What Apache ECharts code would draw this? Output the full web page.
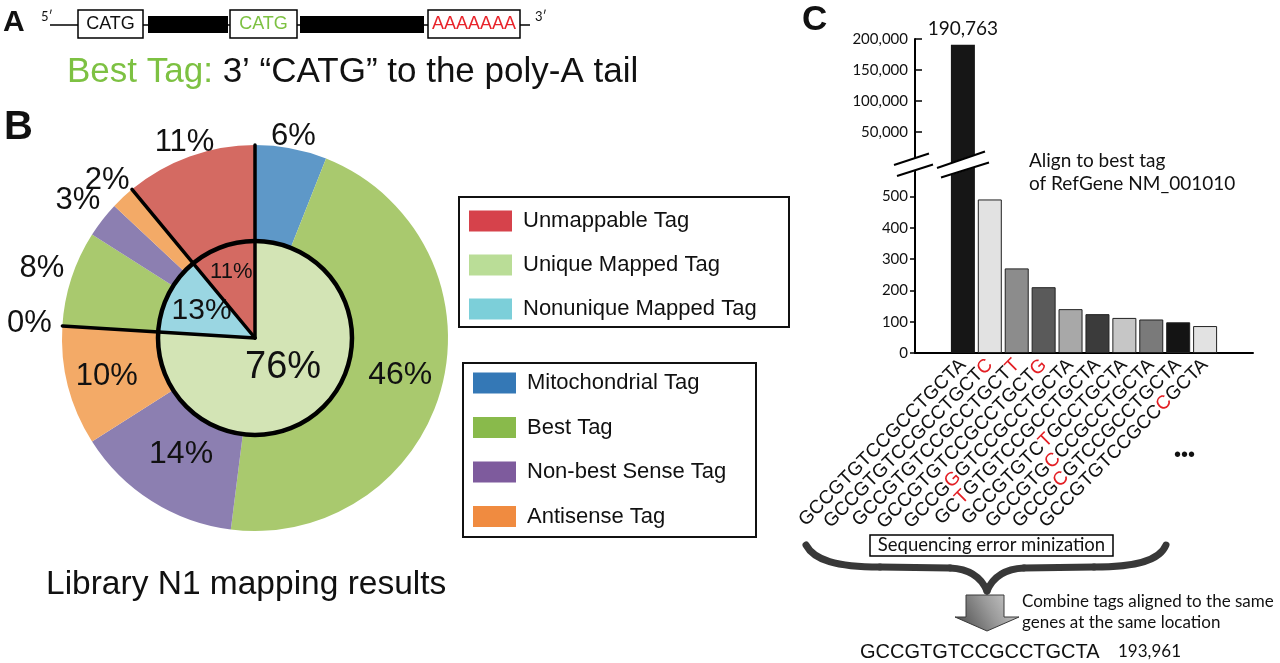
<!DOCTYPE html>
<html><head><meta charset="utf-8">
<script src="https://cdn.jsdelivr.net/npm/echarts@6/dist/echarts.min.js"></script>
<style>html,body{margin:0;padding:0;background:#fff}#c{width:1280px;height:663px}</style>
</head><body><div id="c"></div>
<script>
// ---------- Panel B data ----------
const innerNames = ['Unique Mapped Tag', 'Nonunique Mapped Tag', 'Unmappable Tag'];
const innerValues = [76, 13, 11];
const outerNames = ['Mitochondrial Tag', 'Best Tag', 'Non-best Sense Tag', 'Antisense Tag',
                    'Mitochondrial Tag', 'Best Tag', 'Non-best Sense Tag', 'Antisense Tag', 'Unmappable Tag'];
const outerValues = [6, 46, 14, 10, 0, 8, 3, 2, 11];
const legend1Names = ['Unmappable Tag', 'Unique Mapped Tag', 'Nonunique Mapped Tag'];
const legend2Names = ['Mitochondrial Tag', 'Best Tag', 'Non-best Sense Tag', 'Antisense Tag'];

// ---------- Panel C data ----------
const tagSeqs = ['GCCGTGTCCGCCTGCTA', 'GCCGTGTCCGCCTGCTC', 'GCCGTGTCCGCCTGCTT', 'GCCGTGTCCGCCTGCTG',
                 'GCCGGGTCCGCCTGCTA', 'GCTGTGTCCGCCTGCTA', 'GCCGTGTCTGCCTGCTA', 'GCCGTGCCCGCCTGCTA',
                 'GCCGCGTCCGCCTGCTA', 'GCCGTGTCCGCCCGCTA'];
const tagCounts = [190763, 490, 270, 210, 140, 124, 112, 107, 98, 86];
const upperTicks = [50000, 100000, 150000, 200000];
const lowerTicks = [0, 100, 200, 300, 400, 500];
const combinedSeq = 'GCCGTGTCCGCCTGCTA';
const combinedCount = 193961;

// ---------- styles ----------
const pieColor = {
  'Unmappable Tag': '#d46a62', 'Unique Mapped Tag': '#d3e4b5', 'Nonunique Mapped Tag': '#9ad6e2',
  'Mitochondrial Tag': '#5e98c8', 'Best Tag': '#a9c96e', 'Non-best Sense Tag': '#8c7fb1', 'Antisense Tag': '#f3aa67'
};
const legendColor = {
  'Unmappable Tag': '#d6424b', 'Unique Mapped Tag': '#badd97', 'Nonunique Mapped Tag': '#7ccfd9',
  'Mitochondrial Tag': '#3478b6', 'Best Tag': '#89ba4b', 'Non-best Sense Tag': '#7e5b9d', 'Antisense Tag': '#f08b40'
};
const outerLabelPos = ['outside', 'inside', 'inside', 'inside', 'outside', 'outside', 'outside', 'outside', 'outside'];
const outerLabelR = [205, 150, 138, 153, 226, 224, 224, 216, 208];   // label distance from centre (layout)
const outerLabelSize = [31, 32, 32, 31, 31, 31, 31, 31, 31];
const innerLabelR = [41, 60, 70];
const innerLabelSize = [38, 30, 22];
const barShades = ['#161616', '#e2e2e2', '#8c8c8c', '#5a5a5a', '#a8a8a8', '#3b3b3b', '#c6c6c6', '#7a7a7a', '#141414', '#e2e2e2'];

function hasFont(f) {
  const c = document.createElement('canvas').getContext('2d');
  c.font = '40px monospace'; const a = c.measureText('AAAAAAAmmmiii').width;
  c.font = '40px "' + f + '", monospace'; return c.measureText('AAAAAAAmmmiii').width !== a;
}
const NARROW = hasFont('Liberation Sans Narrow');
const boxFont = NARROW ? { fontFamily: 'Liberation Sans Narrow', fontSize: 21 } : { fontFamily: 'Liberation Sans', fontSize: 18 };
const SANS = 'Liberation Sans, Arial, sans-serif';
const MYR = 'Lato, Open Sans, sans-serif';

const chart = echarts.init(document.getElementById('c'));

// pie geometry
const PCX = 255, PCY = 338, PR = 193, Pr = 97;
function midAngle(vals, i) {
  const total = vals.reduce((a, b) => a + b, 0);
  let s = 0; for (let k = 0; k < i; k++) s += vals[k];
  return (s + vals[i] / 2) / total * Math.PI * 2;
}
function pieLabelLayout(vals, radii) {
  return p => {
    const a = midAngle(vals, p.dataIndex), rr = radii[p.dataIndex];
    return { x: PCX + rr * Math.sin(a), y: PCY - rr * Math.cos(a), align: 'center', verticalAlign: 'middle', hideOverlap: false };
  };
}
const radial = [];
let cum = 0;
[0].concat(innerValues.slice(0, -1)).forEach(v => {
  cum += v;
  const t = cum / 100 * Math.PI * 2;
  radial.push({ type: 'line', z: 50, shape: { x1: PCX, y1: PCY, x2: PCX + PR * Math.sin(t), y2: PCY - PR * Math.cos(t) },
    style: { stroke: '#000', lineWidth: 3.5, lineCap: 'round' } });
});

function seqRich(i) {
  const s = tagSeqs[i], ref = tagSeqs[0];
  let out = '', buf = '';
  for (let k = 0; k < s.length; k++) {
    if (s[k] !== ref[k]) { if (buf) { out += '{n|' + buf + '}'; buf = ''; } out += '{r|' + s[k] + '}'; }
    else buf += s[k];
  }
  if (buf) out += '{n|' + buf + '}';
  return out;
}

const T = (text, x, y, o) => ({ type: 'text', z: 60, style: Object.assign({ text, x, y, fill: '#111', fontFamily: SANS, textVerticalAlign: 'middle' }, o || {}) });
const braceStyle = { fill: 'none', stroke: '#383838', lineWidth: 7, lineCap: 'round' };
const BZ = (x1, y1, cpx1, cpy1, cpx2, cpy2, x2, y2) => ({ type: 'bezierCurve', z: 10, shape: { x1, y1, cpx1, cpy1, cpx2, cpy2, x2, y2 }, style: braceStyle });

const graphics = [
  // Panel A
  T('A', 3, 23, { fontSize: 30, fontWeight: 'bold' }),
  T('5\u2032', 41, 17, { fontSize: 13, fontFamily: MYR }),
  T('3\u2032', 535, 17, { fontSize: 13, fontFamily: MYR }),
  { type: 'line', z: 10, shape: { x1: 50, y1: 25, x2: 530, y2: 25 }, style: { stroke: '#000', lineWidth: 1.5 } },
  { type: 'rect', z: 11, shape: { x: 78, y: 10, width: 65, height: 28 }, style: { fill: '#fff', stroke: '#000', lineWidth: 1.5 } },
  { type: 'rect', z: 11, shape: { x: 148, y: 16, width: 80, height: 17 }, style: { fill: '#000' } },
  { type: 'rect', z: 11, shape: { x: 230, y: 10, width: 67, height: 28 }, style: { fill: '#fff', stroke: '#000', lineWidth: 1.5 } },
  { type: 'rect', z: 11, shape: { x: 300, y: 16, width: 124, height: 17 }, style: { fill: '#000' } },
  { type: 'rect', z: 11, shape: { x: 428, y: 10, width: 92, height: 28 }, style: { fill: '#fff', stroke: '#000', lineWidth: 1.5 } },
  T('CATG', 110.5, 24.5, Object.assign({ textAlign: 'center' }, boxFont)),
  T('CATG', 263.5, 24.5, Object.assign({ textAlign: 'center', fill: '#7dc142' }, boxFont)),
  T('AAAAAAA', 474, 24.5, Object.assign({ textAlign: 'center', fill: '#e8242b' }, boxFont)),
  T('{g|Best Tag:} 3\u2019 \u201CCATG\u201D to the poly-A tail', 67, 72, { fontSize: 35,
    rich: { g: { fill: '#7dc142', fontSize: 35, fontFamily: SANS } } }),
  // Panel B
  T('B', 4, 128, { fontSize: 40, fontWeight: 'bold' }),
  { type: 'circle', z: 50, shape: { cx: PCX, cy: PCY, r: Pr }, style: { fill: 'none', stroke: '#000', lineWidth: 4.5 } },
  ...radial,
  T('Library N1 mapping results', 46, 585, { fontSize: 33.5 }),
  { type: 'rect', z: 10, shape: { x: 459, y: 197, width: 330, height: 130 }, style: { fill: 'none', stroke: '#111', lineWidth: 2 } },
  { type: 'rect', z: 10, shape: { x: 463, y: 363, width: 293, height: 174 }, style: { fill: 'none', stroke: '#111', lineWidth: 2 } },
  // Panel C
  T('C', 802, 20, { fontSize: 35, fontWeight: 'bold' }),
  T('Align to best tag', 1029, 161, { fontSize: 19, fontFamily: MYR }),
  T('of RefGene NM_001010', 1029, 184, { fontSize: 19, fontFamily: MYR }),
  T('\u2022\u2022\u2022', 1174, 455, { fontSize: 20 }),
  // axis break marks
  { type: 'polygon', z: 70, shape: { points: [[893, 165], [929, 153], [933, 165], [897, 177]] }, style: { fill: '#fff' } },
  { type: 'polygon', z: 70, shape: { points: [[936, 168], [985, 151], [989, 163], [941, 178]] }, style: { fill: '#fff' } },
  { type: 'line', z: 71, shape: { x1: 894, y1: 165, x2: 929, y2: 153.5 }, style: { stroke: '#000', lineWidth: 2 } },
  { type: 'line', z: 71, shape: { x1: 897, y1: 176, x2: 933, y2: 164.5 }, style: { stroke: '#000', lineWidth: 2 } },
  { type: 'line', z: 71, shape: { x1: 937, y1: 168, x2: 985, y2: 151.5 }, style: { stroke: '#000', lineWidth: 2 } },
  { type: 'line', z: 71, shape: { x1: 941, y1: 177.5, x2: 989, y2: 162.5 }, style: { stroke: '#000', lineWidth: 2 } },
  // sequencing error box
  { type: 'rect', z: 10, shape: { x: 870, y: 535, width: 243, height: 21 }, style: { fill: '#fff', stroke: '#000', lineWidth: 1.5 } },
  T('Sequencing error minization', 991.5, 545.5, { fontSize: 18.5, fontFamily: MYR, textAlign: 'center' }),
  // brace
  BZ(806, 545, 814, 560, 836, 567, 880, 567),
  { type: 'line', z: 10, shape: { x1: 880, y1: 567, x2: 950, y2: 568 }, style: braceStyle },
  BZ(950, 568, 972, 569, 982, 579, 987, 591),
  BZ(987, 591, 992, 579, 1002, 569, 1024, 568),
  { type: 'line', z: 10, shape: { x1: 1024, y1: 568, x2: 1094, y2: 567 }, style: braceStyle },
  BZ(1094, 567, 1138, 567, 1160, 560, 1166, 545),
  // arrow
  { type: 'polygon', z: 10, shape: { points: [[966, 595], [1004, 595], [1004, 617], [1019, 617], [987, 631], [955, 617], [966, 617]] },
    style: { stroke: '#3a3a3a', lineWidth: 1, fill: { type: 'linear', x: 0, y: 1, x2: 1, y2: 0, colorStops: [
      { offset: 0, color: '#444' }, { offset: 0.55, color: '#9a9a9a' }, { offset: 1, color: '#d4d4d4' }] } } },
  T('Combine tags aligned to the same', 1022, 602, { fontSize: 17, fontFamily: MYR }),
  T('genes at the same location', 1022, 623, { fontSize: 17, fontFamily: MYR }),
  T(combinedSeq, 860, 652, { fontSize: 20 }),
  T(combinedCount.toLocaleString('en-US'), 1118, 652, { fontSize: 17, fontFamily: MYR })
];

const axisCommon = {
  axisLine: { show: true, onZero: false, lineStyle: { color: '#000', width: 2 } },
  splitLine: { show: false },
  axisLabel: { color: '#111', fontFamily: MYR, fontSize: 15, margin: 7 },
  axisTick: { show: true, length: 5, lineStyle: { color: '#000', width: 1.5 } }
};

const option = {
  animation: false,
  backgroundColor: '#fff',
  graphic: graphics,
  legend: [
    { data: legend1Names.map(n => ({ name: n, itemStyle: { color: legendColor[n] } })), orient: 'vertical', left: 469, top: 210,
      padding: 0, itemWidth: 43, itemHeight: 21, itemGap: 22, icon: 'rect', selectedMode: false,
      textStyle: { fontSize: 22, fontFamily: SANS, color: '#111', lineHeight: 22, padding: [0, 0, 0, 6] } },
    { data: legend2Names.map(n => ({ name: n, itemStyle: { color: legendColor[n] } })), orient: 'vertical', left: 473, top: 372,
      padding: 0, itemWidth: 43, itemHeight: 21, itemGap: 22.5, icon: 'rect', selectedMode: false,
      textStyle: { fontSize: 22, fontFamily: SANS, color: '#111', lineHeight: 22, padding: [0, 0, 0, 6] } }
  ],
  grid: [
    { left: 915, top: 165, width: 338, height: 188 },
    { left: 915, top: 39, width: 338, height: 124 }
  ],
  xAxis: [
    Object.assign({}, axisCommon, { type: 'value', gridIndex: 0, min: -1.78, max: 10.78,
      axisTick: { show: false },
      axisLabel: { customValues: tagSeqs.map((s, i) => i), rotate: 45, margin: 9,
        formatter: v => seqRich(Math.round(v)),
        rich: { n: { color: '#111', fontSize: 19, fontFamily: SANS }, r: { color: '#e31e24', fontSize: 19, fontFamily: SANS } } } }),
    { type: 'value', gridIndex: 1, min: -1.78, max: 10.78, show: false, axisLine: { onZero: false } }
  ],
  yAxis: [
    Object.assign({}, axisCommon, { type: 'value', gridIndex: 0, min: 0, max: 600,
      axisTick: Object.assign({}, axisCommon.axisTick, { customValues: lowerTicks }),
      axisLabel: Object.assign({}, axisCommon.axisLabel, { customValues: lowerTicks }) }),
    Object.assign({}, axisCommon, { type: 'value', gridIndex: 1, min: 0, max: 200000,
      axisTick: Object.assign({}, axisCommon.axisTick, { customValues: upperTicks, inside: true, length: 7 }),
      axisLabel: Object.assign({}, axisCommon.axisLabel, { customValues: upperTicks, formatter: v => v.toLocaleString('en-US') }) })
  ],
  series: [
    { type: 'pie', name: 'outer', center: [PCX, PCY], radius: [Pr, PR], startAngle: 90, clockwise: true,
      avoidLabelOverlap: false, emphasis: { disabled: true }, silent: true,
      label: { formatter: '{c}%', fontFamily: SANS, color: '#111' },
      labelLine: { show: false, length: 8, length2: 0 },
      labelLayout: pieLabelLayout(outerValues, outerLabelR),
      data: outerValues.map((v, i) => ({ name: outerNames[i], value: v, itemStyle: { color: pieColor[outerNames[i]] },
        label: { position: outerLabelPos[i], fontSize: outerLabelSize[i] } })) },
    { type: 'pie', name: 'inner', center: [PCX, PCY], radius: [0, Pr], startAngle: 90, clockwise: true,
      avoidLabelOverlap: false, emphasis: { disabled: true }, silent: true,
      label: { position: 'inside', formatter: '{c}%', fontFamily: SANS, color: '#111' },
      labelLayout: pieLabelLayout(innerValues, innerLabelR),
      data: innerValues.map((v, i) => ({ name: innerNames[i], value: v, itemStyle: { color: pieColor[innerNames[i]] },
        label: { fontSize: innerLabelSize[i] } })) },
    { type: 'bar', name: 'lower', xAxisIndex: 0, yAxisIndex: 0, barWidth: 24, clip: true, silent: true,
      data: tagCounts.map((v, i) => ({ value: [i, v], itemStyle: { color: barShades[i], borderColor: '#222', borderWidth: i === 0 ? 0 : 1 } })) },
    { type: 'bar', name: 'upper', xAxisIndex: 1, yAxisIndex: 1, barWidth: 24, silent: true,
      label: { show: true, position: 'top', distance: 6, fontSize: 19, fontFamily: MYR, color: '#111',
        formatter: p => p.value[1].toLocaleString('en-US') },
      labelLine: { show: false },
      data: tagCounts.map((v, i) => v > 1000 ? ({ value: [i, v], itemStyle: { color: barShades[i] } }) : '-') }
  ]
};
chart.setOption(option);
</script></body></html>
